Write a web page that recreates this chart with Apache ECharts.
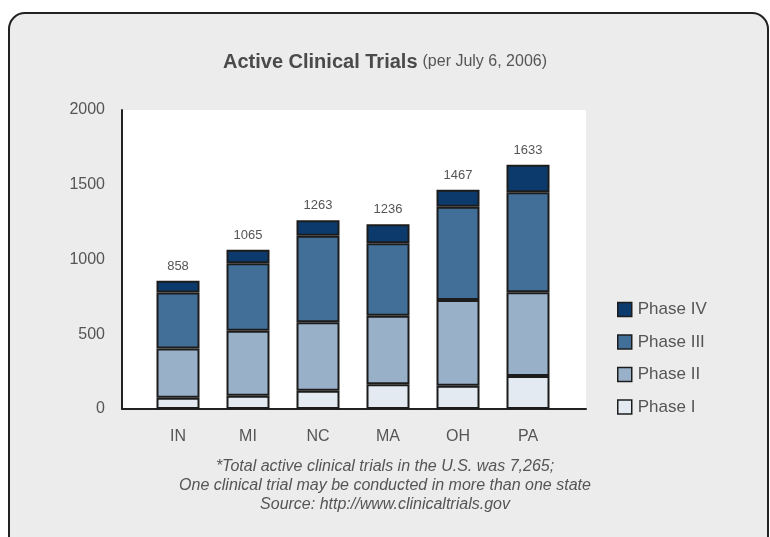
<!DOCTYPE html>
<html>
<head>
<meta charset="utf-8">
<script src="https://cdn.jsdelivr.net/npm/echarts@6/dist/echarts.min.js"></script>
<style>
  html, body { margin: 0; padding: 0; background: #fff; }
  #chart { width: 770px; height: 537px; }
</style>
</head>
<body>
<div id="chart"></div>
<script>
// data
const states = ['IN', 'MI', 'NC', 'MA', 'OH', 'PA'];
const phase1 = [75, 89, 122, 165, 156, 221];
const phase2 = [330, 435, 458, 459, 573, 560];
const phase3 = [375, 451, 579, 484, 624, 668];
const phase4 = [78, 90, 104, 128, 114, 184];
const totals = [858, 1065, 1263, 1236, 1467, 1633];
const yTicks = [0, 500, 1000, 1500, 2000];

const font = '"Liberation Sans", Arial, sans-serif';
const textGray = '#555';
const edge = '#1c1c1c';

const phases = [
  { name: 'Phase I', data: phase1, color: '#e4eaf1' },
  { name: 'Phase II', data: phase2, color: '#98b1c8' },
  { name: 'Phase III', data: phase3, color: '#426f98' },
  { name: 'Phase IV', data: phase4, color: '#0c3a6c' }
];

const chart = echarts.init(document.getElementById('chart'));

const series = phases.map((p, idx) => {
  const s = {
    name: p.name,
    type: 'bar',
    stack: 'all',
    xAxisIndex: 1,
    yAxisIndex: 1,
    barWidth: 43,
    data: p.data,
    itemStyle: { color: p.color, borderColor: edge, borderWidth: 2 },
    emphasis: { disabled: true }
  };
  // totals sit on top of the last stacked piece
  if (idx === phases.length - 1) {
    s.label = {
      show: true,
      position: 'top',
      distance: 8,
      color: textGray,
      fontFamily: font,
      fontSize: 13,
      formatter: (d) => totals[d.dataIndex]
    };
  }
  return s;
});

const option = {
  animation: false,
  backgroundColor: '#fff',
  title: {
    left: 'center',
    top: 47,
    text: '{b|Active Clinical Trials} {n|(per July 6, 2006)}',
    textStyle: {
      rich: {
        b: { fontFamily: font, fontSize: 20, fontWeight: 'bold', color: '#4a4a4a' },
        n: { fontFamily: font, fontSize: 16, fontWeight: 'normal', color: textGray }
      }
    }
  },
  legend: {
    orient: 'vertical',
    left: 617,
    top: 301,
    padding: 0,
    itemWidth: 14,
    itemHeight: 14,
    itemGap: 15.5,
    icon: 'rect',
    data: ['Phase IV', 'Phase III', 'Phase II', 'Phase I'],
    itemStyle: { borderColor: edge, borderWidth: 1.5 },
    textStyle: { fontFamily: font, fontSize: 17, color: textGray, padding: [0, 0, 0, 1] }
  },
  graphic: [
    {
      type: 'rect',
      z: -10,
      silent: true,
      shape: { x: 9, y: 13, width: 759, height: 545, r: 16 },
      style: { fill: '#ececec', stroke: '#222', lineWidth: 2 }
    },
    {
      type: 'text',
      left: 'center',
      top: 457,
      silent: true,
      style: {
        text: '*Total active clinical trials in the U.S. was 7,265;\nOne clinical trial may be conducted in more than one state\nSource: http://www.clinicaltrials.gov',
        textAlign: 'center',
        fontFamily: font,
        fontStyle: 'italic',
        fontSize: 16,
        lineHeight: 19,
        fill: textGray
      }
    }
  ],
  grid: [
    { left: 122, top: 110, width: 464, height: 299, show: true, backgroundColor: '#fff', borderWidth: 0 },
    { left: 143, top: 110, width: 420, height: 299 }
  ],
  xAxis: [
    {
      gridIndex: 0,
      type: 'value',
      min: 0,
      max: 1,
      axisLine: { show: true, lineStyle: { color: '#222', width: 2 } },
      axisTick: { show: false },
      axisLabel: { show: false },
      splitLine: { show: false }
    },
    {
      gridIndex: 1,
      type: 'category',
      data: states,
      axisLine: { show: false },
      axisTick: { show: false },
      axisLabel: { margin: 20, fontFamily: font, fontSize: 16, color: textGray }
    }
  ],
  yAxis: [
    {
      gridIndex: 0,
      type: 'value',
      min: yTicks[0],
      max: yTicks[yTicks.length - 1],
      interval: 500,
      axisLine: { show: true, lineStyle: { color: '#222', width: 2 } },
      axisTick: { show: false },
      splitLine: { show: false },
      axisLabel: {
        margin: 17,
        fontFamily: font,
        fontSize: 16,
        color: textGray,
        formatter: (v) => String(v)
      }
    },
    {
      gridIndex: 1,
      type: 'value',
      min: yTicks[0],
      max: yTicks[yTicks.length - 1],
      show: false,
      splitLine: { show: false }
    }
  ],
  series: series
};

chart.setOption(option);
</script>
</body>
</html>
